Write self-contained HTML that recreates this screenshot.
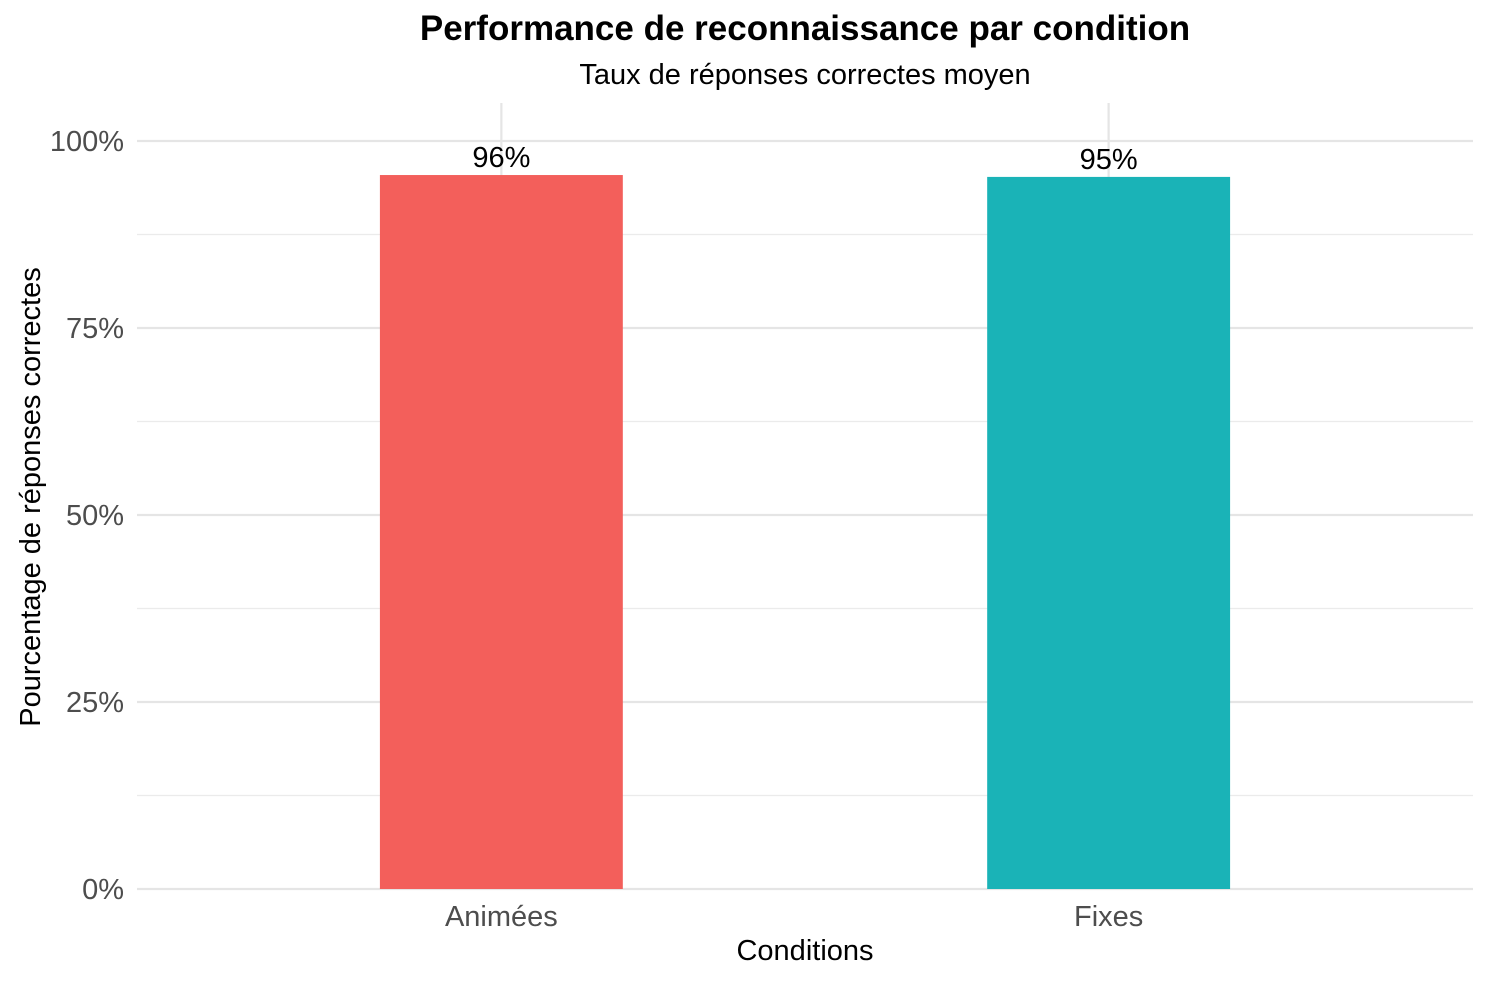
<!DOCTYPE html>
<html><head><meta charset="utf-8"><style>
body{margin:0;background:#fff;}
svg text{font-family:"Liberation Sans",Arial,sans-serif;}
</style></head><body>
<svg width="1488" height="980" xmlns="http://www.w3.org/2000/svg">
<g id="grid"></g>
<g id="bars"></g>
<g id="labels"></g>
<text x="805" y="40" text-anchor="middle" font-size="35" font-weight="bold">Performance de reconnaissance par condition</text>
<text x="805" y="84" text-anchor="middle" font-size="29">Taux de réponses correctes moyen</text>
<text x="805" y="960" text-anchor="middle" font-size="29">Conditions</text>
<text transform="translate(40,497) rotate(-90)" text-anchor="middle" font-size="29">Pourcentage de réponses correctes</text>
</svg>
<script>
const categories=["Animées","Fixes"];
const values=[0.9545,0.952];
const valueLabels=["96%","95%"];
const colors=["#F35F5B","#1AB3B7"];
const yTicks=[0,0.25,0.5,0.75,1];
const yTickLabels=["0%","25%","50%","75%","100%"];
const NS="http://www.w3.org/2000/svg";
const px0=137,px1=1473,py0=889,pyPer=748;
function y(v){return py0-v*pyPer;}
function xc(i){const u=(px1-px0)/2.2;return px0+(i+1-0.4)*u;}
const bw=0.4*(px1-px0)/2.2;
function mk(tag,attrs,parent){const e=document.createElementNS(NS,tag);for(const k in attrs)e.setAttribute(k,attrs[k]);parent.appendChild(e);return e;}
const g=document.getElementById('grid'),b=document.getElementById('bars'),l=document.getElementById('labels');
for(let t=0.125;t<1.05;t+=0.25){const ln=mk('line',{x1:px0,x2:px1,y1:y(t),y2:y(t),stroke:'#ebebeb','stroke-width':1.2},g);

}
yTicks.forEach((t,i)=>{const ln=mk('line',{x1:px0,x2:px1,y1:y(t),y2:y(t),stroke:'#e5e5e5','stroke-width':2.2},g);


const tx=mk('text',{x:124,y:y(t)+10,'text-anchor':'end','font-size':29,fill:'#4d4d4d'},l);tx.textContent=yTickLabels[i];

});
categories.forEach((c,i)=>{const ln=mk('line',{x1:xc(i),x2:xc(i),y1:103,y2:py0,stroke:'#e5e5e5','stroke-width':2.2},g);


const r=mk('rect',{x:xc(i)-bw/2,y:y(values[i]),width:bw,height:py0-y(values[i]),fill:colors[i]},b);


const vt=mk('text',{x:xc(i),y:y(values[i])-8,'text-anchor':'middle','font-size':29},l);vt.textContent=valueLabels[i];


const ct=mk('text',{x:xc(i),y:926,'text-anchor':'middle','font-size':29,fill:'#4d4d4d'},l);ct.textContent=c;

});
</script>
</body></html>
